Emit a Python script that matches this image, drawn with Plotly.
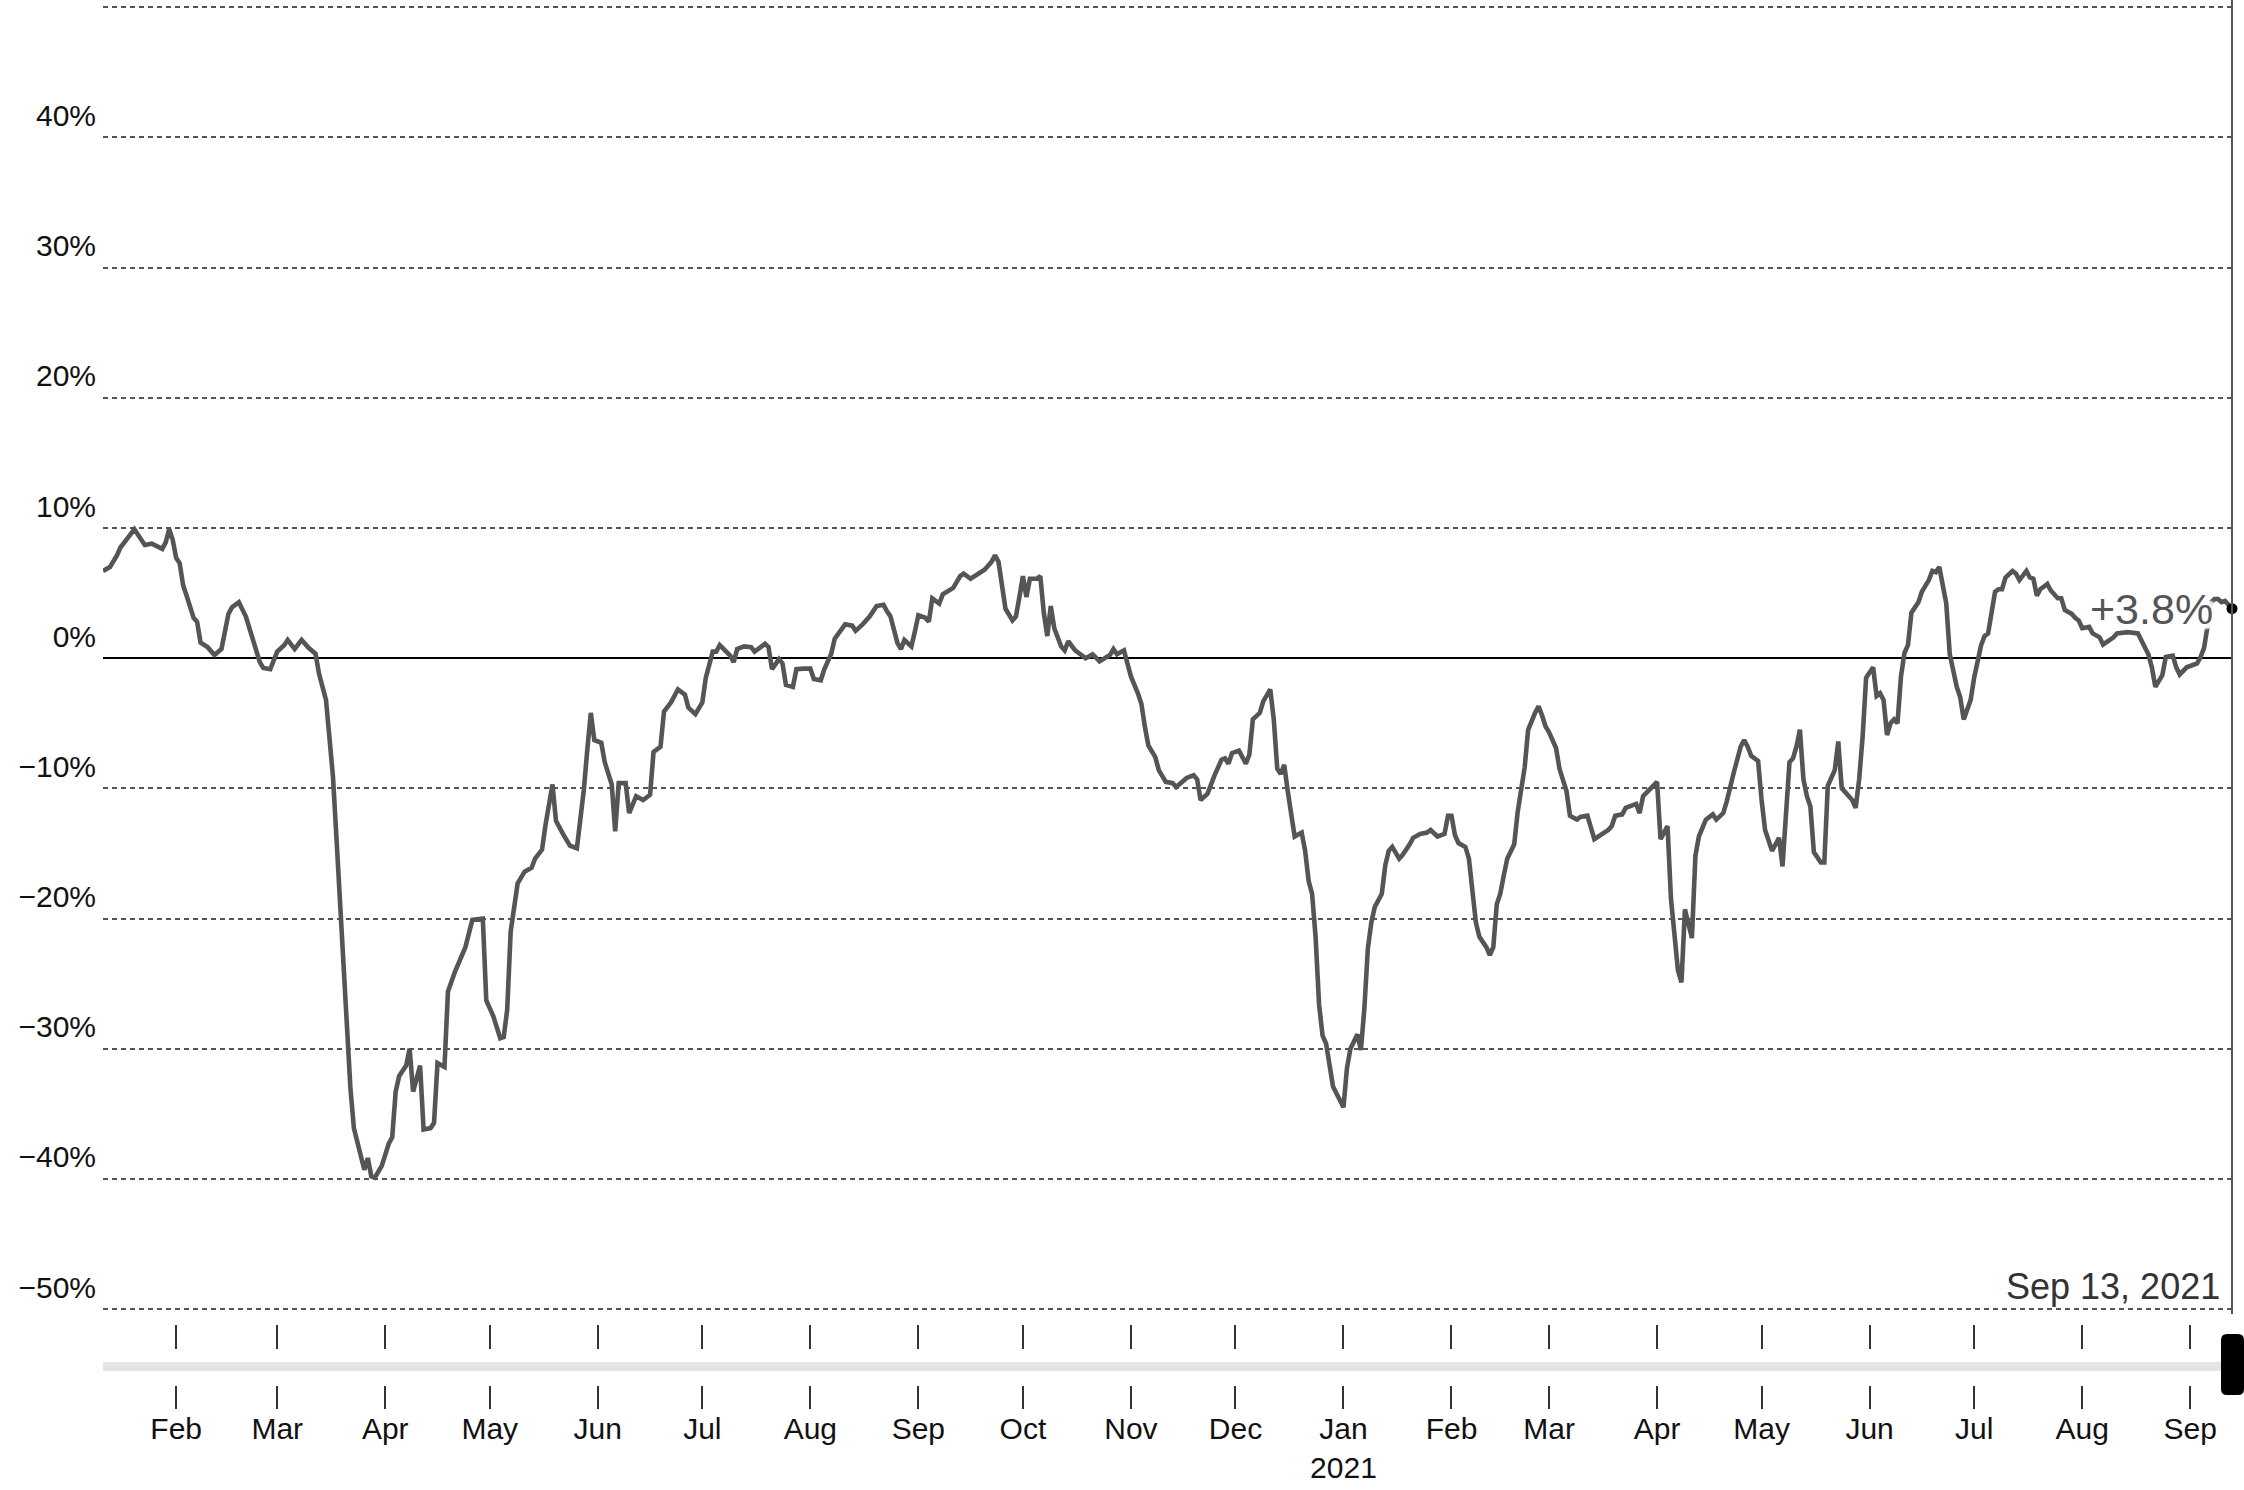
import pandas as pd
import plotly.graph_objects as go

# day offsets counted from start_date, with the % change
start_date = "2020-01-01"

days_early_2020 = [10, 12, 14, 15, 17, 19, 21, 22, 24, 27, 28, 29, 30, 31, 32, 33, 34, 36, 37, 38,
                   40, 42, 44, 46, 47, 49, 51, 53, 55, 56, 58, 60, 62, 63, 65, 67, 69, 71, 72]
pct_early_2020 = [6.7, 7.0, 7.9, 8.5, 9.2, 9.9, 9.1, 8.7, 8.8, 8.4, 8.9, 9.9, 9.1, 7.7, 7.3, 5.6, 4.8, 3.1, 2.8, 1.2,
                  0.85, 0.24, 0.7, 3.4, 3.9, 4.3, 3.2, 1.5, -0.3, -0.75, -0.85, 0.5, 1.0, 1.4, 0.7, 1.4, 0.8, 0.34, -1.2]

days_crash = [74, 75, 76, 77, 78, 79, 80, 81, 82, 84, 85, 86, 87, 88, 90, 92, 93, 94, 95, 97,
              98, 99, 100, 101, 102, 104, 105, 106, 108, 109, 111, 114, 116, 119, 120, 122, 124, 125, 126, 127]
pct_crash = [-3.2, -6.0, -9.1, -13.8, -18.6, -23.8, -28.9, -33.0, -36.1, -38.4, -39.3, -38.4, -39.8, -39.9, -39.0, -37.3, -36.8, -33.3, -32.1, -31.3,
             -30.0, -33.3, -32.3, -31.3, -36.2, -36.1, -35.7, -31.1, -31.4, -25.6, -24.1, -22.2, -20.1, -20.0, -26.3, -27.5, -29.2, -29.1, -27.0, -21.0]

days_summer_2020 = [129, 131, 133, 134, 136, 137, 139, 140, 142, 144, 146, 148, 149, 150, 151, 153, 154, 156, 157, 158,
                    160, 161, 163, 165, 167, 168, 170, 171, 173, 175, 177, 178, 180, 182, 183, 185, 186, 187, 190, 191,
                    192, 194, 196, 197, 200, 201, 202, 204, 205, 206, 208, 209, 211, 213, 214, 216, 217, 219, 220, 223,
                    225, 226]
pct_summer_2020 = [-17.3, -16.4, -16.1, -15.4, -14.7, -12.8, -9.7, -12.5, -13.5, -14.4, -14.6, -10.1, -7.0, -4.2, -6.3, -6.5, -8.0, -9.7, -13.3, -9.6,
                   -9.6, -11.9, -10.6, -10.9, -10.5, -7.2, -6.8, -4.1, -3.4, -2.4, -2.8, -3.8, -4.3, -3.4, -1.5, 0.5, 0.5, 1.0, 0.2, -0.3,
                   0.7, 0.9, 0.85, 0.5, 1.1, 0.85, -0.85, -0.07, -0.4, -2.05, -2.2, -0.85, -0.8, -0.8, -1.6, -1.7, -0.85, 0.34, 1.5, 2.6,
                   2.5, 2.1]

days_fall_2020 = [228, 230, 232, 234, 235, 236, 238, 239, 240, 242, 243, 244, 246, 247, 248, 250, 251, 253, 254, 256,
                  257, 259, 261, 263, 265, 266, 267, 269, 271, 272, 273, 274, 275, 276, 278, 279, 280, 281, 282, 283,
                  285, 286, 287, 289, 290, 292, 294, 296, 299, 300, 301, 303, 304, 305, 307, 308, 309, 310, 312, 313,
                  315, 317, 318, 321, 323, 324, 325, 327, 329, 331, 332, 333, 334, 336, 338]
pct_fall_2020 = [2.6, 3.2, 4.0, 4.1, 3.6, 3.2, 1.15, 0.7, 1.4, 0.9, 2.05, 3.3, 3.1, 2.8, 4.6, 4.2, 4.9, 5.25, 5.4, 6.3,
                 6.5, 6.1, 6.4, 6.8, 7.4, 7.9, 7.4, 3.8, 2.9, 3.2, 4.7, 6.3, 4.7, 6.1, 6.1, 6.3, 3.5, 1.7, 4.0, 2.3,
                 0.9, 0.6, 1.3, 0.6, 0.4, 0.0, 0.3, -0.25, 0.25, 0.7, 0.3, 0.6, -0.4, -1.4, -2.7, -3.5, -5.25, -6.7, -7.6, -8.6,
                 -9.5, -9.6, -9.9, -9.2, -9.0, -9.3, -10.9, -10.4, -9.0, -7.8, -7.7, -8.1, -7.3, -7.1, -8.1]

days_winter_2021 = [339, 340, 342, 343, 345, 346, 347, 348, 349, 350, 352, 354, 355, 356, 357, 358, 359, 360, 361, 363,
                    364, 366, 367, 368, 370, 371, 372, 373, 374, 375, 377, 378, 379, 380, 382, 383, 385, 386, 388, 390,
                    391, 393, 395, 396, 397, 398, 399, 401, 402, 403, 404, 405, 407, 408, 409, 410, 411, 412, 413, 415,
                    416, 418, 419, 421, 422, 423, 424, 425, 427, 428, 430, 431, 433, 434, 436, 438, 440, 442, 443, 444,
                    446, 447]
pct_winter_2021 = [-7.4, -4.7, -4.2, -3.3, -2.4, -4.7, -8.5, -8.9, -8.2, -10.2, -13.7, -13.4, -14.8, -17.1, -18.1, -21.4, -26.6, -29.0, -29.6, -32.9,
                   -33.4, -34.5, -31.5, -30.0, -28.9, -30.1, -26.9, -22.3, -20.3, -19.1, -18.1, -15.9, -14.8, -14.5, -15.4, -15.1, -14.3, -13.8, -13.5, -13.4,
                   -13.2, -13.7, -13.5, -12.1, -12.1, -13.6, -14.2, -14.5, -15.4, -18.1, -20.3, -21.4, -22.2, -22.8, -22.2, -18.9, -18.1, -16.7, -15.4, -14.3,
                   -11.8, -8.4, -5.5, -4.2, -3.7, -4.4, -5.25, -5.7, -6.9, -8.5, -10.2, -12.1, -12.4, -12.2, -12.1, -13.9, -13.6, -13.2, -12.9, -12.1,
                   -12.0, -11.5]

days_spring_2021 = [450, 451, 452, 453, 455, 456, 457, 458, 459, 460, 461, 462, 463, 464, 466, 467, 468, 470, 472, 473,
                    475, 476, 478, 480, 481, 482, 483, 485, 486, 487, 489, 491, 492, 493, 494, 495, 496, 497, 498, 499,
                    500, 501, 503, 504, 505, 507, 508, 509, 510, 512, 513, 514, 515, 516, 518, 519, 520, 521, 522, 523,
                    524, 525]
pct_spring_2021 = [-11.2, -11.9, -10.6, -10.3, -9.7, -9.5, -13.9, -13.3, -12.9, -18.5, -21.6, -24.0, -24.9, -19.3, -21.5, -15.2, -13.7, -12.4, -12.0, -12.4,
                   -11.9, -11.0, -8.8, -6.8, -6.3, -6.8, -7.5, -7.9, -10.9, -13.2, -14.8, -13.8, -16.0, -12.4, -8.0, -7.7, -6.8, -5.5, -9.3, -10.6,
                   -11.4, -14.9, -15.7, -15.7, -9.8, -8.6, -6.4, -10.0, -10.3, -10.9, -11.5, -9.3, -6.0, -1.5, -0.7, -2.9, -2.7, -3.2, -5.9, -5.0,
                   -4.7, -5.0]

days_summer_2021 = [526, 527, 528, 529, 531, 532, 534, 535, 536, 537, 539, 540, 542, 543, 544, 546, 547, 549, 550, 551,
                    553, 554, 555, 556, 558, 559, 560, 562, 563, 564, 565, 566, 568, 569, 571, 572, 573, 575, 576, 577,
                    578, 580, 581, 583, 584, 586, 587, 588, 591, 594, 597, 598, 599, 601, 602, 604, 605, 606, 608, 609,
                    611, 612, 613, 614, 615, 616, 617, 618, 619, 620, 621]
pct_summer_2021 = [-1.4, 0.4, 1.0, 3.5, 4.3, 5.1, 6.0, 6.7, 6.6, 7.0, 4.2, 0.3, -2.2, -3.0, -4.7, -3.2, -1.5, 1.0, 1.7, 1.9,
                   5.1, 5.3, 5.3, 6.2, 6.7, 6.5, 6.0, 6.7, 6.2, 6.1, 4.8, 5.3, 5.7, 5.2, 4.6, 4.6, 3.7, 3.4, 3.1, 2.9,
                   2.3, 2.4, 1.9, 1.6, 1.05, 1.4, 1.6, 1.9, 2.0, 1.9, 0.3, -0.7, -2.2, -1.3, 0.1, 0.2, -0.7, -1.25, -0.7, -0.6,
                   -0.4, 0.1, 0.8, 2.5, 4.3, 4.55, 4.55, 4.3, 4.4, 4.1, 3.8]

tick_dates = ["2020-02-01", "2020-03-01", "2020-04-01", "2020-05-01", "2020-06-01", "2020-07-01", "2020-08-01",
              "2020-09-01", "2020-10-01", "2020-11-01", "2020-12-01", "2021-01-01", "2021-02-01", "2021-03-01",
              "2021-04-01", "2021-05-01", "2021-06-01", "2021-07-01", "2021-08-01", "2021-09-01"]
tick_labels = ["Feb", "Mar", "Apr", "May", "Jun", "Jul", "Aug", "Sep", "Oct", "Nov", "Dec", "Jan<br>2021",
               "Feb", "Mar", "Apr", "May", "Jun", "Jul", "Aug", "Sep"]

y_ticks = [-50, -40, -30, -20, -10, 0, 10, 20, 30, 40, 50]
y_labels = ["−50%", "−40%", "−30%", "−20%", "−10%", "0%", "10%", "20%", "30%", "40%", ""]

days = (days_early_2020 + days_crash + days_summer_2020 + days_fall_2020
        + days_winter_2021 + days_spring_2021 + days_summer_2021)
pct = (pct_early_2020 + pct_crash + pct_summer_2020 + pct_fall_2020
       + pct_winter_2021 + pct_spring_2021 + pct_summer_2021)
assert len(days) == len(pct)

dates = pd.Timestamp(start_date) + pd.to_timedelta(days, unit="D")
last_date, last_val = dates[-1], pct[-1]

W, H = 2244, 1490
M_L, M_R, M_T, M_B = 103, 12, 6, 10
PLOT_W = W - M_L - M_R
PLOT_H = H - M_T - M_B


def paper_x(px):
    return (px - M_L) / PLOT_W


def paper_y(py):
    return (H - M_B - py) / PLOT_H


FONT = "Liberation Sans, Arial, Helvetica, sans-serif"

trace = go.Scatter(
    x=dates, y=pct, mode="lines",
    line=dict(color="#555555", width=4.6),
    hoverinfo="skip", showlegend=False,
)
dot = go.Scatter(
    x=[last_date], y=[last_val], mode="markers",
    marker=dict(color="#000000", size=11),
    cliponaxis=False, hoverinfo="skip", showlegend=False,
)
# invisible traces so the extra tick rows get drawn
ghosts = [
    go.Scatter(x=[dates[0], last_date], y=[0, 0], xaxis=ax, mode="lines",
               line=dict(width=0), opacity=0, hoverinfo="skip", showlegend=False)
    for ax in ("x2", "x3")
]

# rounded black handle at the end of the slider bar
hx0, hx1, hy0, hy1, r = 2221, 2244, 1334, 1395, 6
handle_path = (
    f"M {paper_x(hx0 + r)},{paper_y(hy0)} L {paper_x(hx1 - r)},{paper_y(hy0)} "
    f"Q {paper_x(hx1)},{paper_y(hy0)} {paper_x(hx1)},{paper_y(hy0 + r)} "
    f"L {paper_x(hx1)},{paper_y(hy1 - r)} Q {paper_x(hx1)},{paper_y(hy1)} {paper_x(hx1 - r)},{paper_y(hy1)} "
    f"L {paper_x(hx0 + r)},{paper_y(hy1)} Q {paper_x(hx0)},{paper_y(hy1)} {paper_x(hx0)},{paper_y(hy1 - r)} "
    f"L {paper_x(hx0)},{paper_y(hy0 + r)} Q {paper_x(hx0)},{paper_y(hy0)} {paper_x(hx0 + r)},{paper_y(hy0)} Z"
)

halo = ", ".join(
    f"{dx}px {dy}px 2px #ffffff"
    for dx, dy in [(5, 0), (-5, 0), (0, 5), (0, -5), (4, 4), (-4, 4), (4, -4), (-4, -4), (2, 0), (-2, 0), (0, 2), (0, -2)]
)

tick_row = dict(
    type="date", range=[dates[0], last_date], automargin=False, anchor="free",
    showgrid=False, zeroline=False, showline=False,
    tickmode="array", tickvals=tick_dates,
)

layout = go.Layout(
    width=W, height=H,
    margin=dict(l=M_L, r=M_R, t=M_T, b=M_B, pad=0, autoexpand=False),
    paper_bgcolor="#ffffff", plot_bgcolor="#ffffff",
    font=dict(family=FONT, color="#111111", size=30),
    showlegend=False,
    # lower tick row under the slider bar
    xaxis=dict(tick_row, position=paper_y(1385), showticklabels=False,
               ticks="outside", ticklen=23, tickwidth=2, tickcolor="#333333"),
    # upper tick row above the slider bar
    xaxis2=dict(tick_row, overlaying="x", position=paper_y(1324), showticklabels=False,
                ticks="outside", ticklen=24, tickwidth=2, tickcolor="#333333"),
    # month labels
    xaxis3=dict(tick_row, overlaying="x", position=paper_y(1408), ticks="",
                ticktext=tick_labels, tickfont=dict(size=30, color="#111111"),
                ticklabelstandoff=0),
    yaxis=dict(
        range=[-50.15, 50.1], domain=[paper_y(1311), 1], automargin=False,
        tickmode="array", tickvals=y_ticks, ticktext=y_labels,
        showgrid=True, gridcolor="#555555", gridwidth=2, griddash="5px,4px",
        zeroline=True, zerolinecolor="#000000", zerolinewidth=2,
        showline=False, ticks="", ticklabelshift=-22, ticklabelstandoff=6,
        tickfont=dict(size=30, color="#111111"),
    ),
    shapes=[
        dict(type="rect", xref="paper", yref="paper",
             x0=paper_x(M_L), x1=paper_x(2224), y0=paper_y(1371), y1=paper_y(1362),
             fillcolor="#e4e4e4", line=dict(width=0), layer="below"),
        dict(type="path", xref="paper", yref="paper", path=handle_path,
             fillcolor="#000000", line=dict(width=0)),
        dict(type="line", xref="paper", yref="paper",
             x0=1, x1=1, y0=paper_y(1314), y1=paper_y(0),
             line=dict(color="#555555", width=2)),
    ],
    annotations=[
        dict(x=last_date, y=last_val, xref="x", yref="y",
             text=f"{last_val:+.1f}%", showarrow=False,
             xanchor="right", yanchor="middle", xshift=-17, yshift=0,
             font=dict(size=43, color="#555555", family=FONT, shadow=halo)),
        dict(x=last_date, y=-50, xref="x", yref="y",
             text=last_date.strftime("%b %-d, %Y"), showarrow=False,
             xanchor="right", yanchor="bottom", xshift=-10, yshift=0,
             font=dict(size=36, color="#333333", family=FONT)),
    ],
)

fig = go.Figure(data=[trace, *ghosts, dot], layout=layout)
fig.write_html("out.html", config={"displayModeBar": False},
               post_script="document.body.style.margin='0';")
